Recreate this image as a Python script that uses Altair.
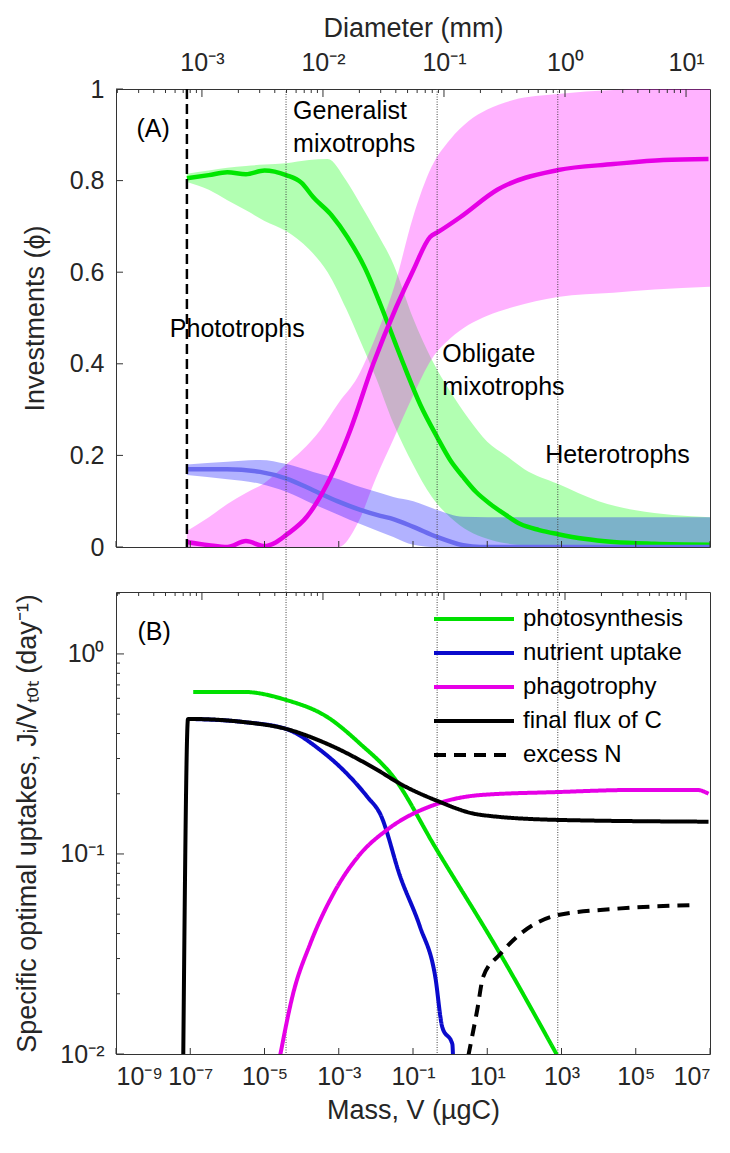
import altair as alt
import pandas as pd

FONT = "Liberation Sans"

# ---------------- Panel A data (log10 mass, investment) ----------------
gA_lm = [-7.09, -6.5, -6.0, -5.5, -5.0, -4.42, -4.0, -3.69, -3.2, -2.77, -2.3, -1.88, -1.5, -1.26,
         -0.8, -0.35, 0.0, 0.35, 0.7, 1.08, 1.5, 1.89, 2.4, 2.91, 3.6, 4.4, 5.5, 7.0]
gA_val = [0.805, 0.812, 0.818, 0.814, 0.822, 0.812, 0.795, 0.764, 0.725, 0.677, 0.61, 0.53, 0.45, 0.40,
          0.31, 0.24, 0.19, 0.153, 0.12, 0.094, 0.07, 0.05, 0.037, 0.028, 0.018, 0.011, 0.007, 0.005]

mA_lm = [-7.09, -6.5, -6.0, -5.5, -5.0, -4.7, -4.42, -3.86, -3.31, -2.69, -2.07, -1.45, -0.99, -0.54,
         -0.32, 0.27, 1.27, 2.91, 4.4, 5.74, 6.96]
mA_val = [0.011, 0.004, 0.0, 0.013, 0.002, 0.01, 0.026, 0.066, 0.138, 0.255, 0.40, 0.524, 0.605, 0.677,
          0.688, 0.72, 0.78, 0.823, 0.836, 0.845, 0.847]

bA_lm = [-7.09, -6.01, -5.12, -4.39, -3.69, -3.04, -2.42, -1.88, -1.53, -0.99, -0.35, 0.35, 0.81, 7.0]
bA_val = [0.17, 0.17, 0.164, 0.149, 0.124, 0.10, 0.081, 0.068, 0.061, 0.044, 0.022, 0.004, 0.0, 0.0]

# bands (lower / upper)
gB_lm = [-7.09, -6.5, -6.0, -5.5, -5.0, -4.42, -3.8, -3.3, -2.8, -2.42, -2.0, -1.53, -1.0, -0.5,
         0.0, 0.5, 1.0, 1.5, 2.0, 2.9, 4.0, 5.0, 6.0, 7.0]
gB_hi = [0.815, 0.822, 0.828, 0.832, 0.835, 0.838, 0.845, 0.847, 0.80, 0.749, 0.69, 0.618, 0.50, 0.41,
         0.34, 0.28, 0.23, 0.20, 0.17, 0.138, 0.10, 0.08, 0.07, 0.065]
gB_lo = [0.797, 0.78, 0.757, 0.735, 0.712, 0.69, 0.65, 0.60, 0.52, 0.45, 0.37, 0.27, 0.18, 0.11,
         0.065, 0.035, 0.018, 0.008, 0.004, 0.001, 0.0, 0.0, 0.0, 0.0]

mB_lm = [-7.09, -6.5, -6.0, -5.5, -5.0, -4.42, -4.0, -3.5, -3.0, -2.5, -2.0, -1.5, -1.0, -0.5,
         0.0, 0.5, 1.0, 1.7, 2.9, 4.4, 5.5, 7.0]
mB_hi = [0.035, 0.065, 0.094, 0.118, 0.14, 0.18, 0.21, 0.255, 0.315, 0.37, 0.46, 0.57, 0.72, 0.83,
         0.89, 0.93, 0.955, 0.976, 0.989, 0.998, 1.0, 1.0]
mB_lo = [0.0, 0.0, 0.0, 0.0, 0.0, 0.0, 0.0, 0.0, 0.0, 0.05, 0.15, 0.24, 0.33, 0.41,
         0.455, 0.485, 0.505, 0.524, 0.546, 0.555, 0.562, 0.568]

bB_lm = [-7.09, -6.0, -5.12, -4.4, -3.69, -3.0, -2.42, -1.88, -1.53, -0.99, -0.35, 0.35, 1.0, 7.0]
bB_hi = [0.18, 0.186, 0.19, 0.181, 0.164, 0.148, 0.131, 0.118, 0.109, 0.1, 0.081, 0.066, 0.065, 0.065]
bB_lo = [0.157, 0.148, 0.138, 0.12, 0.094, 0.07, 0.05, 0.033, 0.022, 0.005, 0.0, 0.0, 0.0, 0.0]

# ---------------- Panel B data (log10 mass, specific uptake) ----------------
photo_lm = [-6.92, -5.58, -4.42, -3.31, -2.42, -1.53, -0.40, 1.35, 2.89]
photo_val = [0.646, 0.646, 0.589, 0.484, 0.355, 0.243, 0.108, 0.0316, 0.0098]

nut_lm = [-7.0, -5.58, -4.42, -3.5, -2.88, -2.23, -1.88, -1.34, -0.81, -0.40, -0.21, 0.06, 0.08]
nut_val = [0.473, 0.457, 0.422, 0.331, 0.263, 0.193, 0.158, 0.0767, 0.0432, 0.0243, 0.0136, 0.0112, 0.0095]

phago_lm = [-4.58, -4.23, -3.77, -3.15, -2.42, -1.7, -0.35, 0.81, 2.91, 5.0, 6.66, 6.96]
phago_val = [0.0098, 0.02, 0.0355, 0.063, 0.1, 0.132, 0.178, 0.197, 0.204, 0.209, 0.209, 0.2]

flux_lm = [-7.19, -7.06, -7.0, -5.58, -4.42, -3.31, -1.96, -1.34, -0.4, 0.81, 2.91, 6.96]
flux_val = [0.009, 0.473, 0.473, 0.457, 0.422, 0.355, 0.263, 0.224, 0.186, 0.157, 0.148, 0.145]

exN_lm = [0.49, 0.73, 0.89, 1.35, 1.89, 2.91, 4.40, 6.66]
exN_val = [0.0098, 0.0166, 0.0243, 0.0316, 0.0398, 0.0495, 0.0531, 0.0556]

series = ["photosynthesis", "nutrient uptake", "phagotrophy", "final flux of C", "excess N"]
series_colors = ["#00e000", "#0a0acc", "#e600e6", "#000000", "#000000"]
series_dash = [[1, 0], [1, 0], [1, 0], [1, 0], [12, 8]]

# ---------------- guides ----------------
dashed_lm = [-7.09]
dotted_lm = [-4.42, -0.35, 2.9]

mass_ticks_exp = [-9, -7, -5, -3, -1, 1, 3, 5, 7]
diam_ticks_exp = [-3, -2, -1, 0, 1]
yA_ticks = [0, 0.2, 0.4, 0.6, 0.8, 1.0]
yB_ticks_exp = [-2, -1, 0]
minor_mult = [2, 3, 4, 5, 6, 7, 8, 9]

mass_domain = [1e-9, 1e7]
diam_domain = [10 ** -3.71, 10 ** 1.198]
yB_domain = [0.01, 2.04]

annA_text = ["(A)", "Generalist", "mixotrophs", "Phototrophs", "Obligate", "mixotrophs", "Heterotrophs"]
annA_lm = [-8.45, -4.23, -4.23, -7.55, -0.21, -0.21, 2.56]
annA_y = [0.913, 0.952, 0.880, 0.476, 0.421, 0.349, 0.20]
annB_text = ["(B)"]
annB_lm = [-8.42]
annB_y = [1.29]

W = 594
HA = 458
HB = 462
GAP = 45

SUP = str.maketrans("-0123456789", "⁻⁰¹²³⁴⁵⁶⁷⁸⁹")


def pow_expr(exps):
    e = "round(log(datum.value)/LN10)"
    s = ""
    for k in exps:
        s += f"{e}=={k}?'10{str(k).translate(SUP)}':"
    return s + "''"


def mdf(lm, **cols):
    d = pd.DataFrame({"mass": [10 ** v for v in lm]})
    for k, v in cols.items():
        d[k] = v
    return d


xA = alt.X("mass:Q", scale=alt.Scale(type="log", domain=mass_domain, nice=False), axis=None)
yA = alt.Y("val:Q", scale=alt.Scale(domain=[0, 1], nice=False),
           axis=alt.Axis(values=yA_ticks, format=".1~f", ticks=False, domain=False, grid=False,
                         labelPadding=12, title="Investments (ϕ)", titlePadding=20))

bands = []
for lm, lo, hi, c in [(gB_lm, gB_lo, gB_hi, "#00ff00"), (mB_lm, mB_lo, mB_hi, "#ff00ff"),
                      (bB_lm, bB_lo, bB_hi, "#0000ff")]:
    bands.append(alt.Chart(mdf(lm, val=lo, hi=hi)).mark_area(color=c, opacity=0.3, clip=True,
                                                             interpolate="monotone").encode(
        x=xA, y=yA, y2="hi:Q"))

linesA = []
for lm, v, c in [(gA_lm, gA_val, "#00e600"), (bA_lm, bA_val, "#6b6bef"), (mA_lm, mA_val, "#e600e6")]:
    linesA.append(alt.Chart(mdf(lm, val=v)).mark_line(color=c, strokeWidth=4.5, clip=True,
                                                      interpolate="monotone").encode(x=xA, y=yA))

dashA = alt.Chart(mdf(dashed_lm)).mark_rule(color="black", strokeWidth=2.5, strokeDash=[10, 5]).encode(
    x=xA, y=alt.value(0), y2=alt.value(HA))
dotA = alt.Chart(mdf(dotted_lm)).mark_rule(color="#444444", strokeWidth=1, strokeDash=[1, 1.5]).encode(
    x=xA, y=alt.value(0), y2=alt.value(HA + GAP))

textA = alt.Chart(mdf(annA_lm, val=annA_y, t=annA_text)).mark_text(
    align="left", baseline="middle", fontSize=25, font=FONT, color="black").encode(x=xA, y=yA, text="t:N")

ytickA = alt.Chart(pd.DataFrame({"val": yA_ticks})).mark_rule(color="#333333").encode(
    y=yA, x=alt.value(0), x2=alt.value(7))
xtickA = alt.Chart(pd.DataFrame({"mass": [10.0 ** e for e in mass_ticks_exp]})).mark_rule(color="#333333").encode(
    x=xA, y=alt.value(HA), y2=alt.value(HA - 6))

mainA = alt.layer(*bands, *linesA, dashA, dotA, textA, ytickA, xtickA)

# diameter ticks
diam_major = [10.0 ** e for e in diam_ticks_exp]
diam_minor = [m * 10.0 ** e for e in [-4, -3, -2, -1, 0, 1] for m in minor_mult
              if diam_domain[0] <= m * 10.0 ** e <= diam_domain[1]]

dAx_top = alt.X("d:Q", scale=alt.Scale(type="log", domain=diam_domain, nice=False),
                axis=alt.Axis(orient="top", values=diam_major, labelExpr=pow_expr(diam_ticks_exp),
                              ticks=False, domain=False, grid=False, labelPadding=14,
                              title="Diameter (mm)", titlePadding=8))
dAx_none = alt.X("d:Q", scale=alt.Scale(type="log", domain=diam_domain, nice=False), axis=None)


def diam_layer(xenc):
    maj = alt.Chart(pd.DataFrame({"d": diam_major})).mark_rule(color="#333333").encode(
        x=xenc, y=alt.value(0), y2=alt.value(8))
    mnr = alt.Chart(pd.DataFrame({"d": diam_minor})).mark_rule(color="#333333").encode(
        x=xenc, y=alt.value(0), y2=alt.value(4))
    return alt.layer(maj, mnr)


panelA = alt.layer(mainA, diam_layer(dAx_top)).resolve_scale(x="independent").properties(width=W, height=HA)

# ---------------- Panel B ----------------
xB = alt.X("mass:Q", scale=alt.Scale(type="log", domain=mass_domain, nice=False),
           axis=alt.Axis(values=[10.0 ** e for e in mass_ticks_exp], labelExpr=pow_expr(mass_ticks_exp),
                         ticks=False, domain=False, grid=False, labelPadding=10,
                         title="Mass, V (µgC)", titlePadding=8))
yB = alt.Y("val:Q", scale=alt.Scale(type="log", domain=yB_domain, nice=False),
           axis=alt.Axis(values=[10.0 ** e for e in yB_ticks_exp], labelExpr=pow_expr(yB_ticks_exp),
                         ticks=False, domain=False, grid=False, labelPadding=12,
                         title="Specific optimal uptakes, Jᵢ/Vₜₒₜ (day⁻¹)", titlePadding=18))

frames = []
for name, lm, v in [("photosynthesis", photo_lm, photo_val), ("nutrient uptake", nut_lm, nut_val),
                    ("phagotrophy", phago_lm, phago_val), ("final flux of C", flux_lm, flux_val),
                    ("excess N", exN_lm, exN_val)]:
    d = mdf(lm, val=v)
    d["series"] = name
    d["order"] = range(len(d))
    frames.append(d)
dfB = pd.concat(frames, ignore_index=True)

legend = alt.Legend(title=None, orient="none", legendX=316, legendY=HA + GAP + 14, symbolType="stroke",
                    symbolSize=6400, symbolStrokeWidth=4, labelFontSize=24, labelFont=FONT,
                    labelOffset=7, rowPadding=8, clipHeight=26, labelColor="black", padding=0,
                    labelLimit=400)

linesB = alt.Chart(dfB).mark_line(strokeWidth=4, clip=True, interpolate="monotone").encode(
    x=xB, y=yB, order="order:Q",
    color=alt.Color("series:N", scale=alt.Scale(domain=series, range=series_colors), legend=legend),
    strokeDash=alt.StrokeDash("series:N", scale=alt.Scale(domain=series, range=series_dash), legend=legend),
)

dotB = alt.Chart(mdf(dotted_lm)).mark_rule(color="#444444", strokeWidth=1, strokeDash=[1, 1.5]).encode(
    x=xB, y=alt.value(0), y2=alt.value(HB))
textB = alt.Chart(mdf(annB_lm, val=annB_y, t=annB_text)).mark_text(
    align="left", baseline="middle", fontSize=25, font=FONT, color="black").encode(x=xB, y=yB, text="t:N")

yB_minor = [m * 10.0 ** e for e in [-2, -1, 0] for m in minor_mult if m * 10.0 ** e <= yB_domain[1]]
ytickB = alt.Chart(pd.DataFrame({"val": [10.0 ** e for e in yB_ticks_exp]})).mark_rule(color="#333333").encode(
    y=yB, x=alt.value(0), x2=alt.value(8))
ytickB2 = alt.Chart(pd.DataFrame({"val": yB_minor})).mark_rule(color="#333333").encode(
    y=yB, x=alt.value(0), x2=alt.value(4))
xtickB = alt.Chart(pd.DataFrame({"mass": [10.0 ** e for e in mass_ticks_exp]})).mark_rule(color="#333333").encode(
    x=xB, y=alt.value(HB), y2=alt.value(HB - 6))

mainB = alt.layer(dotB, linesB, textB, ytickB, ytickB2, xtickB)
panelB = alt.layer(mainB, diam_layer(dAx_none)).resolve_scale(x="independent").properties(width=W, height=HB)

chart = alt.vconcat(panelA, panelB, spacing=GAP, bounds="flush", background="white").configure_view(
    stroke="#333333", strokeWidth=1
).configure_axis(
    labelFont=FONT, titleFont=FONT, labelFontSize=25, titleFontSize=27, labelColor="#262626",
    titleColor="#262626", titleFontWeight="normal"
)

chart.save("out.html", embed_options={"renderer": "svg", "actions": False})
